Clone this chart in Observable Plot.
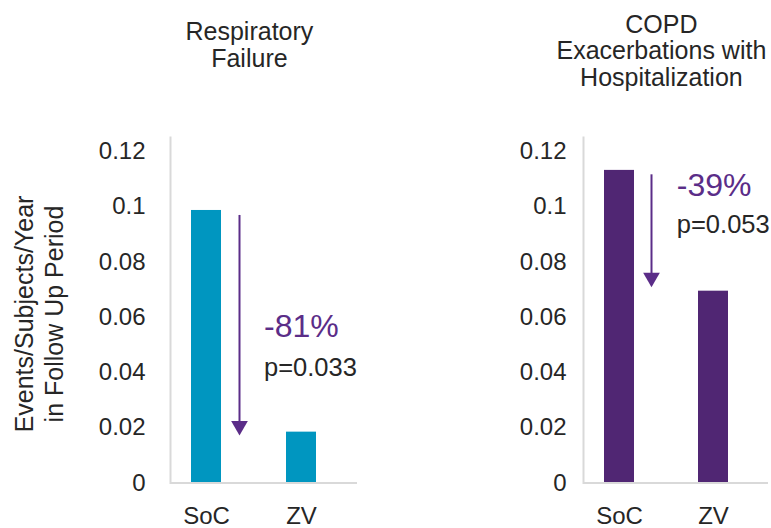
<!DOCTYPE html>
<html><head><meta charset="utf-8">
<script src="https://cdn.jsdelivr.net/npm/d3@7"></script>
<script src="https://cdn.jsdelivr.net/npm/@observablehq/plot@0.6"></script>
<style>
body{margin:0;background:#fff;}
#wrap{display:flex;width:771px;height:528px;overflow:hidden;}
#wrap svg{overflow:visible;flex:none;}
</style></head><body><div id="wrap"></div>
<script>
// ---- data ----
const groups = ["SoC", "ZV"];
const panelTitles = ["Respiratory\nFailure", "COPD\nExacerbations with\nHospitalization"];
const respiratoryFailure = [0.0986, 0.0184];
const copdHospitalization = [0.1131, 0.0694];
const reductionLabels = ["-81%", "-39%"];
const pValueLabels = ["p=0.033", "p=0.053"];
const arrowStart = [0.0968, 0.1115];
const arrowEnd = [0.0172, 0.0708];
const reductionLevel = [0.0564, 0.1077];
const pValueLevel = [0.0416, 0.0933];
const yTicks = [0, 0.02, 0.04, 0.06, 0.08, 0.1, 0.12];
const yLabel = "Events/Subjects/Year\nin Follow Up Period";

// ---- styles ----
const barColors = ["#0096c0", "#502673"];
const accent = "#5b2d88";
const ink = "#262626";
const axisGray = "#d9d9d9";
const font = "'Liberation Sans', Arial, sans-serif";
const layout = [
  {width: 385, marginLeft: 170, marginRight: 28, tickPadding: 25, arrowDx: 33, labelDx: 57.5, titleDy: -115.75},
  {width: 386, marginLeft: 198, marginRight: 3, tickPadding: 17, arrowDx: 32, labelDx: 57.3, titleDy: -123}
];
const series = [respiratoryFailure, copdHospitalization];

function panel(i) {
  const L = layout[i];
  const data = groups.map((g, j) => ({group: g, value: series[i][j]}));
  const arrow = [{group: groups[0], y1: arrowStart[i], y2: arrowEnd[i]}];
  const marks = [
    Plot.barY(data, {x: "group", y: "value", fill: barColors[i]}),
    Plot.frame({anchor: "left", stroke: axisGray, strokeWidth: 2}),
    Plot.ruleY([0], {stroke: axisGray, strokeWidth: 2}),
    Plot.ruleX(arrow, {x: "group", y1: "y1", y2: "y2", dx: L.arrowDx, stroke: accent, strokeWidth: 2, insetBottom: 8}),
    Plot.dot(arrow, {x: "group", y: "y2", dx: L.arrowDx, dy: -9.64, symbol: "triangle", rotate: 180, r: 6.2, fill: accent, stroke: "none"}),
    Plot.text([reductionLabels[i]], {x: () => groups[0], y: () => reductionLevel[i], dx: L.labelDx, textAnchor: "start", lineAnchor: "middle", fontSize: 32, fill: accent}),
    Plot.text([pValueLabels[i]], {x: () => groups[0], y: () => pValueLevel[i], dx: L.labelDx, textAnchor: "start", lineAnchor: "middle", fontSize: 25.5, fill: ink}),
    Plot.text([panelTitles[i]], {frameAnchor: "top", lineAnchor: "top", dx: -14.6, dy: L.titleDy, fontSize: 25, lineHeight: 1.05, fill: ink})
  ];
  if (i === 0) {
    marks.push(Plot.text([yLabel], {frameAnchor: "left", rotate: -90, textAnchor: "middle", lineAnchor: "middle", lineHeight: 1.2, fontSize: 25, dx: -132, dy: 3.75, fill: ink}));
  }
  return Plot.plot({
    width: L.width,
    height: 528,
    marginLeft: L.marginLeft,
    marginRight: L.marginRight,
    marginTop: 137,
    marginBottom: 45.5,
    style: {fontFamily: font, fontSize: "24px", color: ink, background: "transparent", overflow: "visible"},
    x: {domain: groups, paddingInner: 0.683, paddingOuter: 0.32, align: 0.338, label: null, tickSize: 0, tickPadding: 24},
    y: {domain: [0, 0.125], ticks: yTicks, tickFormat: d => String(d), tickSize: 0, tickPadding: L.tickPadding, label: null},
    marks
  });
}

const wrap = document.getElementById("wrap");
wrap.appendChild(panel(0));
wrap.appendChild(panel(1));
</script>
</body></html>
